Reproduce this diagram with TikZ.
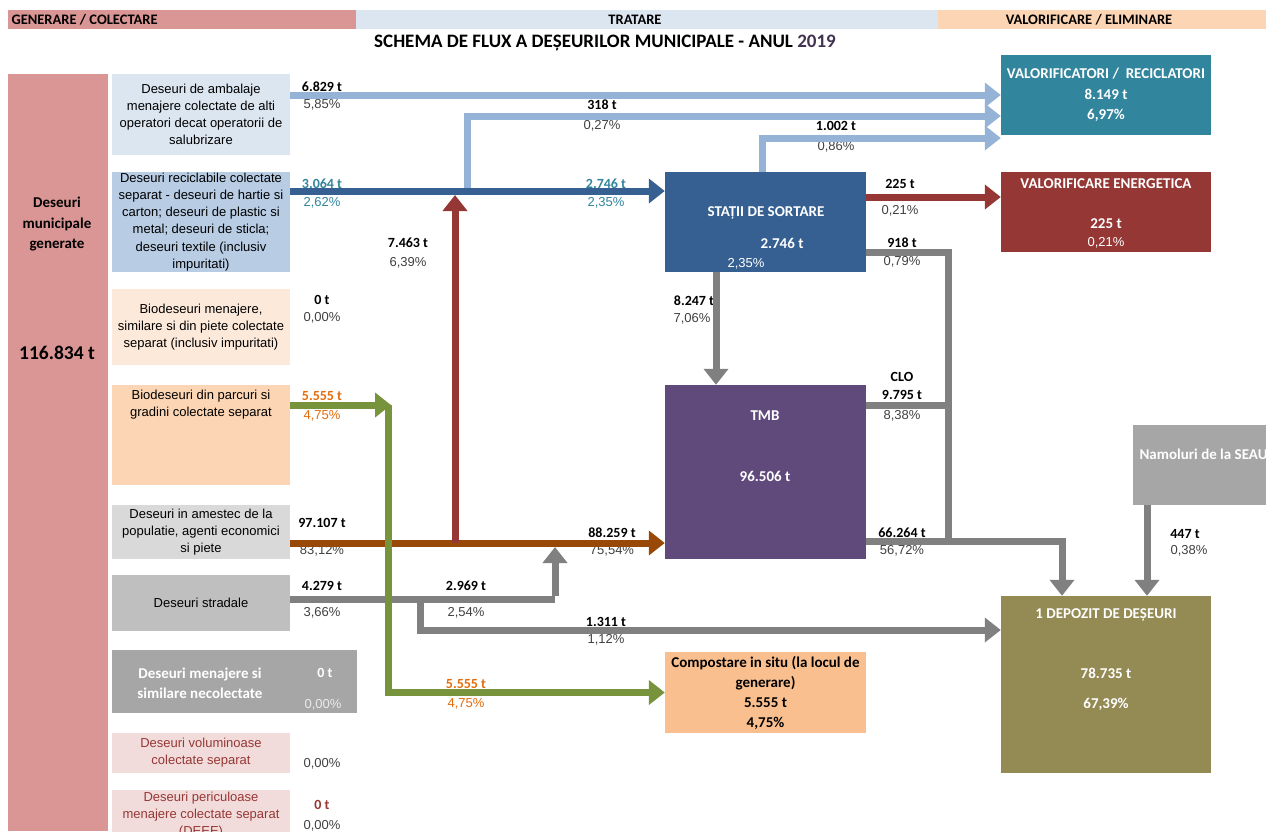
\documentclass[tikz,border=0pt]{standalone}
\usepackage{fontspec}
\setmainfont{Carlito}
\newfontfamily\arialf{Liberation Sans}
\usepackage{xcolor}
\usepackage{tikz}
\usetikzlibrary{arrows.meta}
\usetikzlibrary{calc}

\definecolor{hdrRed}{HTML}{DA9694}
\definecolor{hdrBlue}{HTML}{DCE6F1}
\definecolor{hdrPeach}{HTML}{FCD5B4}
\definecolor{boxRec}{HTML}{B8CCE4}
\definecolor{boxBio}{HTML}{FDE9D9}
\definecolor{boxAmestec}{HTML}{D9D9D9}
\definecolor{boxStrad}{HTML}{BFBFBF}
\definecolor{boxNecol}{HTML}{A6A6A6}
\definecolor{boxVol}{HTML}{F2DCDB}
\definecolor{valRec}{HTML}{31859C}
\definecolor{valEn}{HTML}{953735}
\definecolor{sortare}{HTML}{366092}
\definecolor{tmbCol}{HTML}{604A7B}
\definecolor{compCol}{HTML}{FABF8F}
\definecolor{depCol}{HTML}{948A54}
\definecolor{lightFlow}{HTML}{95B3D7}
\definecolor{brownFlow}{HTML}{984807}
\definecolor{greenFlow}{HTML}{77933C}
\definecolor{grayFlow}{HTML}{808080}
\definecolor{orangeTxt}{HTML}{E46C0A}
\definecolor{yearTxt}{HTML}{403151}

\begin{document}
\begin{tikzpicture}[x=1pt,y=-1pt,
    box/.style={rectangle,inner sep=0pt,align=center},
    boxtxt/.style={font=\arialf\fontsize{13}{17.2}\selectfont,align=center},
    whitetxt/.style={font=\bfseries\fontsize{15}{17}\selectfont,text=white},
    qty/.style={font=\bfseries\fontsize{14}{16}\selectfont},
    pct/.style={font=\arialf\fontsize{13}{15}\selectfont,text=black!75},
    hdr/.style={font=\bfseries\fontsize{14.5}{16}\selectfont},
    flow/.style={line width=7pt},
    tip/.style={-{Triangle[width=24pt,length=16pt]}}]
    \useasboundingbox (0,0) rectangle (1266,831);

    %%% HEADER %%%
    \fill[hdrRed] (8,10) rectangle (356,29);
    \fill[hdrBlue] (356,10) rectangle (938,29);
    \fill[hdrPeach] (938,10) rectangle (1266,29);
    \node[hdr,anchor=west] (hGen) at (8,20) {GENERARE / COLECTARE};
    \node[hdr] (hTrat) at (635,20) {TRATARE};
    \node[hdr] (hVal) at (1089,20) {VALORIFICARE / ELIMINARE};
    \node[font=\bfseries\fontsize{19}{21}\selectfont] (title) at (605,43) {SCHEMA DE FLUX A DEȘEURILOR MUNICIPALE - ANUL \textcolor{yearTxt}{2019}};

    %%% SOURCES %%%
    \node[box,fill=hdrRed,minimum width=100pt,minimum height=757pt] (mun) at (58,452.5) {};
    \node[font=\bfseries\fontsize{15}{20.5}\selectfont,align=center] at (57,224) {Deseuri\\municipale\\generate};
    \node[font=\bfseries\fontsize{19.5}{21}\selectfont] at (57,353) {116.834 t};

    \node[box,fill=hdrBlue,minimum width=178pt,minimum height=81pt,boxtxt] (amb) at (201,114.5) {Deseuri de ambalaje\\menajere colectate de alti\\operatori decat operatorii de\\salubrizare};
    \node[box,fill=boxRec,minimum width=178pt,minimum height=100pt,boxtxt] (rec) at (201,222) {Deseuri reciclabile colectate\\separat - deseuri de hartie si\\carton; deseuri de plastic si\\metal; deseuri de sticla;\\deseuri textile (inclusiv\\impuritati)};
    \node[box,fill=boxBio,minimum width=178pt,minimum height=76pt,boxtxt] (bioMen) at (201,327) {Biodeseuri menajere,\\similare si din piete colectate\\separat (inclusiv impuritati)};
    \node[box,fill=hdrPeach,minimum width=178pt,minimum height=100pt] (bioPar) at (201,435) {};
    \node[boxtxt] at (201,404.5) {Biodeseuri din parcuri si\\gradini colectate separat};
    \node[box,fill=boxAmestec,minimum width=178pt,minimum height=54pt,boxtxt] (amestec) at (201,532) {Deseuri in amestec de la\\populatie, agenti economici\\si piete};
    \node[box,fill=boxStrad,minimum width=178pt,minimum height=56pt,boxtxt] (strad) at (201,603) {Deseuri stradale};
    \node[box,fill=boxNecol,minimum width=245pt,minimum height=63pt] (necol) at (234.5,681.5) {};
    \node[font=\bfseries\fontsize{15}{20}\selectfont,text=white,align=center] at (200,683) {Deseuri menajere si\\similare necolectate};
    \node[box,fill=boxVol,minimum width=178pt,minimum height=40pt,boxtxt,text=valEn] (vol) at (201,753) {Deseuri voluminoase\\colectate separat};
    \node[box,fill=boxVol,minimum width=178pt,minimum height=50pt,boxtxt,text=valEn] (peric) at (201,815) {Deseuri periculoase\\menajere colectate separat\\(DEEE)};

    %%% TREATMENT AND DESTINATIONS %%%
    \node[box,fill=sortare,minimum width=201pt,minimum height=100pt] (statii) at (765.5,222) {};
    \node[whitetxt] at (766,213) {STAȚII DE SORTARE};
    \node[whitetxt] at (782,243) {2.746 t};
    \node[pct,text=white] at (746,264) {2,35\%};
    \node[box,fill=tmbCol,minimum width=201pt,minimum height=174pt] (tmb) at (765.5,472) {};
    \node[whitetxt] at (765,416) {TMB};
    \node[whitetxt] at (765,476) {96.506 t};
    \node[box,fill=compCol,minimum width=201pt,minimum height=81pt,font=\bfseries\fontsize{15}{20}\selectfont] (compost) at (765.5,692.5) {Compostare in situ (la locul de\\generare)\\5.555 t\\4,75\%};
    \node[box,fill=valRec,minimum width=210pt,minimum height=80pt,whitetxt,font=\bfseries\fontsize{15}{20.5}\selectfont] (valrec) at (1106,95) {VALORIFICATORI /\ \ RECICLATORI\\8.149 t\\6,97\%};
    \node[box,fill=valEn,minimum width=210pt,minimum height=80pt] (valen) at (1106,212) {};
    \node[whitetxt] at (1106,184) {VALORIFICARE ENERGETICA};
    \node[whitetxt] at (1106,224) {225 t};
    \node[pct,text=white] at (1106,243) {0,21\%};
    \node[box,fill=depCol,minimum width=210pt,minimum height=177pt] (depozit) at (1106,684.5) {};
    \node[whitetxt] at (1106,615) {1 DEPOZIT DE DEȘEURI};
    \node[whitetxt] at (1106,673) {78.735 t};
    \node[whitetxt] at (1106,704) {67,39\%};
    \node[box,fill=boxNecol,minimum width=140pt,minimum height=80pt] (namol) at (1203,465) {};
    \node[whitetxt,anchor=west] at (1136,454) {Namoluri de la SEAU};

    %%% COORDINATES %%%
    \coordinate (lv95) at (0,95);
    \coordinate (lv116) at (0,116);
    \coordinate (lv138) at (0,138);
    \coordinate (lv191) at (0,191);
    \coordinate (lv197) at (0,197);
    \coordinate (lv252) at (0,252);
    \coordinate (lv405) at (0,405);
    \coordinate (lv541) at (0,541);
    \coordinate (lv543) at (0,543);
    \coordinate (lv599) at (0,599);
    \coordinate (lv630) at (0,630);
    \coordinate (cx716) at (716,0);
    \coordinate (cx1062) at (1062,0);
    \coordinate (cx1147) at (1147,0);
    \coordinate (jBlue) at (467,188);
    \coordinate (jRed) at (455,543);
    \coordinate (tRed) at (455,195);
    \coordinate (jGreen) at (388,405);
    \coordinate (tGreen) at (391,405);
    \coordinate (jStrad) at (555,599);
    \coordinate (tStrad) at (555,547);
    \coordinate (jDep) at (420,599);
    \coordinate (jClo) at (948,541);
    \coordinate (jClo2) at (948,405);

    %%% LABELS %%%
    \node[qty] at (322,87) {6.829 t};            \node[pct] at (322,105) {5,85\%};
    \node[qty,text=valRec] at (322,184) {3.064 t}; \node[pct,text=valRec] at (322,203) {2,62\%};
    \node[qty] at (322,300) {0 t};               \node[pct] at (322,318) {0,00\%};
    \node[qty,text=orangeTxt] at (322,396) {5.555 t}; \node[pct,text=orangeTxt] at (322,416) {4,75\%};
    \node[qty] at (322,523) {97.107 t};          \node[pct] at (322,551) {83,12\%};
    \node[qty] at (322,586) {4.279 t};           \node[pct] at (322,613) {3,66\%};
    \node[qty,text=white] at (325,673) {0 t};    \node[pct,text=white!92!black] at (323,705) {0,00\%};
    \node[pct] at (322,764) {0,00\%};
    \node[qty,text=valEn] at (322,805) {0 t};    \node[pct] at (322,826) {0,00\%};
    \node[qty] at (602,105) {318 t};             \node[pct] at (602,126) {0,27\%};
    \node[qty] at (836,126) {1.002 t};           \node[pct] at (836,147) {0,86\%};
    \node[qty,text=valRec] at (606,184) {2.746 t}; \node[pct,text=valRec] at (606,203) {2,35\%};
    \node[qty] at (408,243) {7.463 t};           \node[pct] at (408,263) {6,39\%};
    \node[qty] at (900,184) {225 t};             \node[pct] at (900,211) {0,21\%};
    \node[qty] at (902,243) {918 t};             \node[pct] at (902,262) {0,79\%};
    \node[qty] at (694,301) {8.247 t};           \node[pct] at (692,319) {7,06\%};
    \node[qty] at (902,377) {CLO};
    \node[qty] at (902,395) {9.795 t};           \node[pct] at (902,416) {8,38\%};
    \node[qty] at (612,533) {88.259 t};          \node[pct] at (612,551) {75,54\%};
    \node[qty] at (902,533) {66.264 t};          \node[pct] at (902,551) {56,72\%};
    \node[qty] at (1185,534) {447 t};            \node[pct] at (1189,551) {0,38\%};
    \node[qty] at (466,586) {2.969 t};           \node[pct] at (466,613) {2,54\%};
    \node[qty] at (606,622) {1.311 t};           \node[pct] at (606,640) {1,12\%};
    \node[qty,text=orangeTxt] at (466,684) {5.555 t}; \node[pct,text=orangeTxt] at (466,704) {4,75\%};

    %%% FLOWS %%%
    \draw[flow,tip,draw=lightFlow] (amb.east |- lv95)--(valrec.west |- lv95);
    \draw[flow,tip,draw=sortare] (rec.east |- lv191)--(statii.west |- lv191);
    \draw[flow,tip,draw=lightFlow] (jBlue) |- (valrec.west |- lv116);
    \draw[flow,tip,draw=lightFlow] (statii.north -| 762,0) |- (valrec.west |- lv138);
    \draw[flow,tip,draw=brownFlow] (amestec.east |- lv543)--(tmb.west |- lv543);
    \draw[flow,tip,draw=valEn] (jRed)--(tRed);
    \draw[flow,draw=grayFlow] (strad.east |- lv599)--(jStrad);
    \draw[flow,tip,draw=grayFlow] ([yshift=3.5pt]jStrad)--(tStrad);
    \draw[flow,tip,draw=grayFlow] (jDep) |- (depozit.west |- lv630);
    \draw[flow,tip,draw=greenFlow] (bioPar.east |- lv405)--(tGreen);
    \draw[flow,tip,draw=greenFlow] (jGreen) |- (compost.west);
    \draw[flow,tip,draw=valEn] (statii.east |- lv197)--(valen.west |- lv197);
    \draw[flow,draw=grayFlow] (statii.east |- lv252) -| (jClo);
    \draw[flow,draw=grayFlow] (tmb.east |- lv405)--(jClo2);
    \draw[flow,tip,draw=grayFlow] (tmb.east |- lv541) -| (depozit.north -| cx1062);
    \draw[flow,tip,draw=grayFlow] (statii.south -| cx716)--(tmb.north -| cx716);
    \draw[flow,tip,draw=grayFlow] (namol.south -| cx1147)--(depozit.north -| cx1147);
\end{tikzpicture}
\end{document}
